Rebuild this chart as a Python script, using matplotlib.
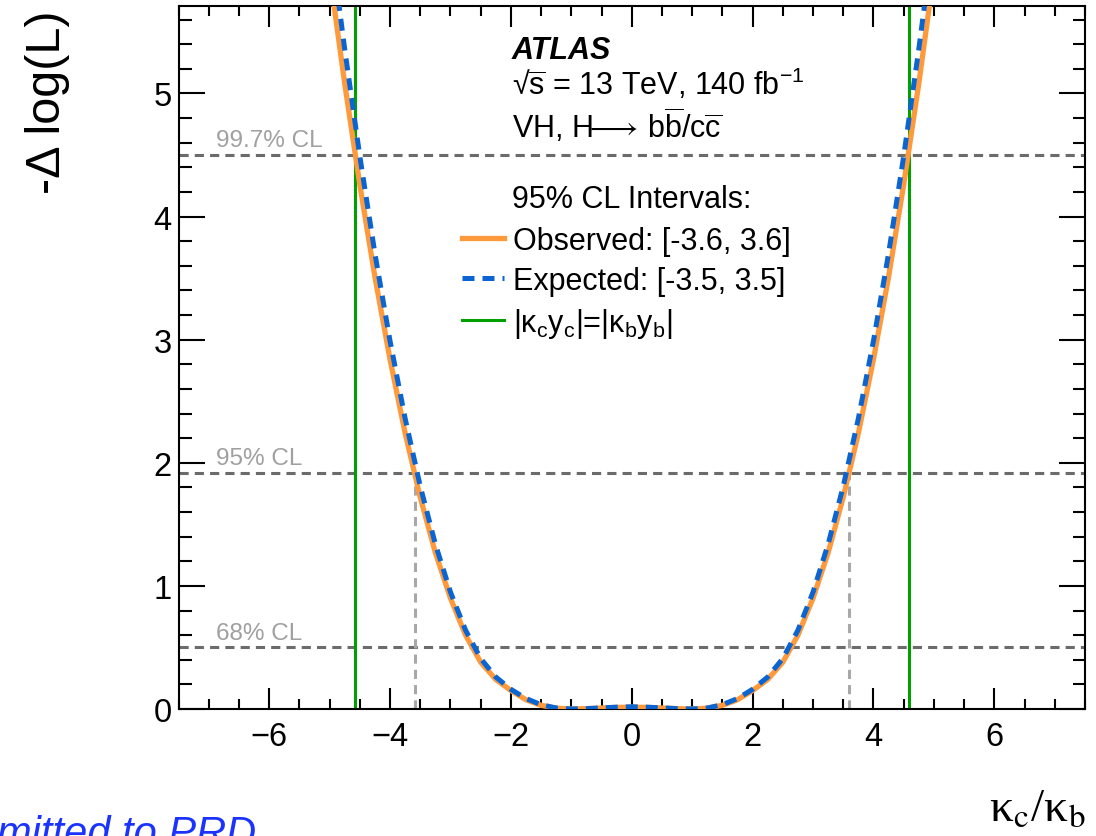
import matplotlib
matplotlib.use("Agg")
import matplotlib.pyplot as plt
from matplotlib.ticker import MultipleLocator

plt.rcParams['font.family'] = ['Liberation Sans', 'DejaVu Sans']
plt.rcParams['mathtext.fontset'] = 'custom'
plt.rcParams['mathtext.rm'] = 'Liberation Sans'
plt.rcParams['mathtext.it'] = 'Liberation Sans:italic'
plt.rcParams['mathtext.bf'] = 'Liberation Sans:bold'

# kappa_c / kappa_b scan points
kappa = [-5.0, -4.75, -4.5, -4.25, -4.0, -3.75, -3.5, -3.25, -3.0, -2.75, -2.5,
         -2.25, -2.0, -1.75, -1.5, -1.25, -1.0, -0.75, -0.5, -0.25, 0.0,
         0.25, 0.5, 0.75, 1.0, 1.25, 1.5, 1.75, 2.0, 2.25, 2.5,
         2.75, 3.0, 3.25, 3.5, 3.75, 4.0, 4.25, 4.5, 4.75, 5.0]
nll_obs = [5.98, 5.08, 4.26, 3.51, 2.84, 2.24, 1.72, 1.27, 0.90, 0.60, 0.38,
           0.24, 0.15, 0.075, 0.03, 0.007, 0.0, 0.003, 0.008, 0.013, 0.015,
           0.013, 0.008, 0.003, 0.0, 0.007, 0.03, 0.075, 0.15, 0.24, 0.38,
           0.60, 0.90, 1.27, 1.72, 2.24, 2.84, 3.51, 4.26, 5.08, 5.98]
nll_exp = [6.30, 5.36, 4.49, 3.70, 2.99, 2.36, 1.81, 1.34, 0.95, 0.64, 0.41,
           0.26, 0.16, 0.085, 0.035, 0.008, 0.0, 0.003, 0.009, 0.015, 0.018,
           0.015, 0.009, 0.003, 0.0, 0.008, 0.035, 0.085, 0.16, 0.26, 0.41,
           0.64, 0.95, 1.34, 1.81, 2.36, 2.99, 3.70, 4.49, 5.36, 6.30]

cl_levels = [0.5, 1.92, 4.5]
cl_names = ["68% CL", "95% CL", "99.7% CL"]
obs_interval = [-3.59, 3.59]
yukawa_equal = [-4.58, 4.58]

W, H = 1096, 837
fig = plt.figure(figsize=(W / 100, H / 100), dpi=100)
ax = fig.add_axes([178.5 / W, 1 - 710 / H, (1085 - 178.5) / W, (710 - 7) / H])

for lvl, name in zip(cl_levels, cl_names):
    ax.axhline(lvl, color='#6b6b6b', lw=2.2, ls=(0, (3, 2)), zorder=1)
    ax.text(-6.88, lvl + 0.03, name, color='#a0a0a0', fontsize=17.5,
            ha='left', va='bottom')

for xv in obs_interval:
    ax.plot([xv, xv], [0, cl_levels[1]], color='#a8a8a8', lw=2.2,
            ls=(0, (3, 2)), zorder=1)

l_obs, = ax.plot(kappa, nll_obs, color='#ff9a3c', lw=3.8, zorder=3,
                 label='Observed: [-3.6, 3.6]')
l_exp, = ax.plot(kappa, nll_exp, color='#0a64d2', lw=3.6, ls=(0, (2.4, 1.6)),
                 zorder=4, label='Expected: [-3.5, 3.5]')
l_y = None
for xv in yukawa_equal:
    l_y = ax.axvline(xv, color='#00a000', lw=2.2, zorder=2)
l_y.set_label('|κ$_{\\rm c}$y$_{\\rm c}$|=|κ$_{\\rm b}$y$_{\\rm b}$|')

ax.set_xlim(-7.5, 7.5)
ax.set_ylim(0, 5.71)
ax.xaxis.set_major_locator(MultipleLocator(2))
ax.xaxis.set_minor_locator(MultipleLocator(0.5))
ax.yaxis.set_major_locator(MultipleLocator(1))
ax.yaxis.set_minor_locator(MultipleLocator(0.2))
ax.tick_params(axis='both', which='both', direction='in', top=True, right=True,
               width=1.5, labelsize=23.5)
ax.tick_params(axis='x', which='major', length=15, pad=9)
ax.tick_params(axis='x', which='minor', length=7.5)
ax.tick_params(axis='y', which='major', length=19, pad=5)
ax.tick_params(axis='y', which='minor', length=9)
for sp in ax.spines.values():
    sp.set_linewidth(1.5)

leg = ax.legend(handles=[l_obs, l_exp, l_y], loc='upper left',
                bbox_to_anchor=((462 - 178.5) / (1085 - 178.5), 1 - (227 - 7) / (710 - 7)),
                frameon=False, fontsize=22, borderpad=0, borderaxespad=0,
                handlelength=1.37, handletextpad=0.3, labelspacing=0.33)

fig.text(511.7 / W, 1 - 59 / H, 'ATLAS', fontsize=22, fontweight='bold',
         fontstyle='italic', ha='left', va='baseline')
fig.text(511.7 / W, 1 - 95 / H, '√$\\overline{\\rm s}$ = 13 TeV, 140 fb$^{-1}$',
         fontsize=22, ha='left', va='baseline')
fig.text(511.7 / W, 1 - 138 / H,
         'VH, H$\\!\\!\\longrightarrow\\!$ b$\\overline{\\rm b}$/c$\\overline{\\rm c}$',
         fontsize=22, ha='left', va='baseline')
fig.text(511.7 / W, 1 - 208 / H, '95% CL Intervals:', fontsize=22,
         ha='left', va='baseline')

fig.text(47 / W, 1 - 10 / H, '-Δ log(L)', fontsize=35, rotation=90,
         ha='center', va='top')
fig.text(1085 / W, 1 - 822 / H, 'κ$_{\\rm c}$/κ$_{\\rm b}$', fontsize=34,
         family=['Liberation Serif', 'DejaVu Serif'], math_fontfamily='stix',
         ha='right', va='baseline')
fig.text(256 / W, 1 - 846 / H, 'Submitted to PRD', fontsize=30,
         fontstyle='italic', color='#1a33ff', ha='right', va='baseline')

fig.savefig('out.png', dpi=100, facecolor='white')
